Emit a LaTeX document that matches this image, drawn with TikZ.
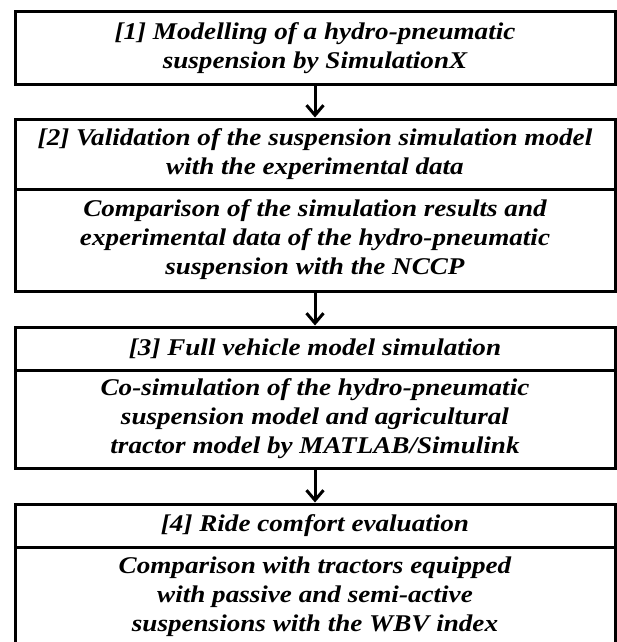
\documentclass[tikz,border=0pt]{standalone}
\usepackage{fontspec}
\setmainfont{Liberation Serif}[FakeStretch=1.13]
\usetikzlibrary{arrows.meta}
\begin{document}
\begin{tikzpicture}[x=1pt,y=-1pt,line width=3pt,>={Straight Barb[length=10pt,width=17pt]},
    box/.style={draw,minimum width=600pt,inner sep=0pt,align=center,font=\fontsize{24}{29}\selectfont\bfseries\itshape}]
    \useasboundingbox (0,0) rectangle (617,642);
    \node[box,minimum height=72pt] (s1) at (315,48) {[1] Modelling of a hydro-pneumatic\\suspension by SimulationX};
    \node[box,minimum height=70pt] (s2) at (315,154) {[2] Validation of the suspension simulation model\\with the experimental data};
    \node[box,minimum height=102pt] (d2) at (315,240) {Comparison of the simulation results and\\experimental data of the hydro-pneumatic\\suspension with the NCCP};
    \node[box,minimum height=43pt] (s3) at (315,348.5) {[3] Full vehicle model simulation};
    \node[box,minimum height=98pt] (d3) at (315,419) {Co-simulation of the hydro-pneumatic\\suspension model and agricultural\\tractor model by MATLAB/Simulink};
    \node[box,minimum height=43pt] (s4) at (315,525.5) {[4] Ride comfort evaluation};
    \node[box,minimum height=100pt] (d4) at (315,597) {Comparison with tractors equipped\\with passive and semi-active\\suspensions with the WBV index};
    \draw[->] (s1) -- (s2); \draw[->] (d2) -- (s3); \draw[->] (d3) -- (s4);
\end{tikzpicture}
\end{document}
